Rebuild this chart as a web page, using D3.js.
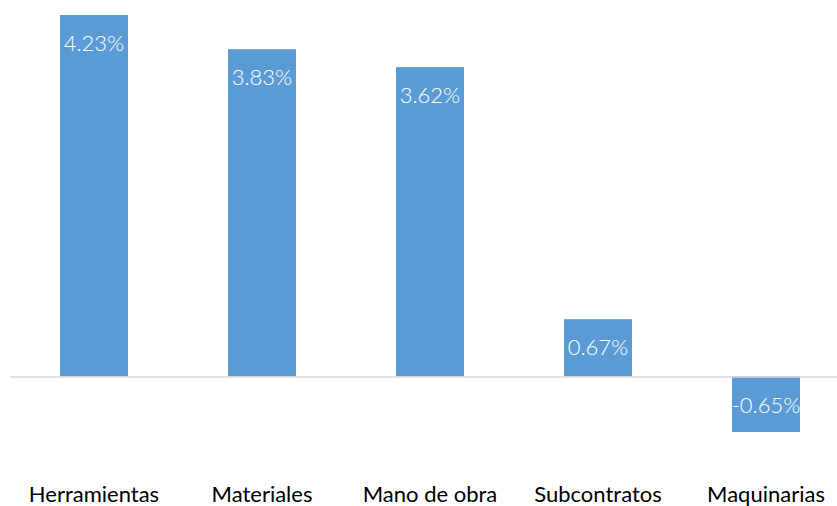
<!DOCTYPE html>
<html>
<head>
<meta charset="utf-8">
<script src="https://cdn.jsdelivr.net/npm/d3@7"></script>
<style>
  body { margin: 0; background: #fff; }
  svg { display: block; font-family: "Lato", "Open Sans", sans-serif; }
</style>
</head>
<body>
<script>
// chart data
var categories = ["Herramientas", "Materiales", "Mano de obra", "Subcontratos", "Maquinarias"];
var values = [4.23, 3.83, 3.62, 0.67, -0.65];

var width = 837,
    height = 506;

var svg = d3.select("body")
    .append("svg")
    .attr("width", width)
    .attr("height", height);

// bands 168px apart, bars 68px wide
var x = d3.scaleBand()
    .domain(categories)
    .range([10, 850])
    .paddingInner(100 / 168)
    .paddingOuter(50 / 168);

var y = d3.scaleLinear()
    .domain([-0.65, 4.23])
    .range([432, 15]);

var rows = categories.map(function(c, i) { return {cat: c, val: values[i]}; });

svg.append("g")
    .selectAll("rect")
    .data(rows)
    .enter().append("rect")
    .attr("x", function(d) { return x(d.cat); })
    .attr("width", x.bandwidth())
    .attr("y", function(d) { return y(Math.max(0, d.val)); })
    .attr("height", function(d) { return Math.abs(y(d.val) - y(0)); })
    .attr("fill", "#5B9BD5");

// zero line
svg.append("line")
    .attr("x1", 10)
    .attr("x2", width)
    .attr("y1", y(0) + 0.5)
    .attr("y2", y(0) + 0.5)
    .attr("stroke", "#D9D9D9")
    .attr("stroke-width", 1.5);

// value labels, inside end
svg.append("g")
    .selectAll("text")
    .data(rows)
    .enter().append("text")
    .attr("x", function(d) { return x(d.cat) + x.bandwidth() / 2; })
    .attr("y", function(d) { return d.val >= 0 ? y(d.val) + 28 : y(d.val) - 27; })
    .attr("dy", "0.35em")
    .attr("text-anchor", "middle")
    .attr("fill", "#fff")
    .style("font-size", "22px")
    .style("font-weight", 300)
    .text(function(d) { return d.val.toFixed(2) + "%"; });

// category labels
svg.append("g")
    .selectAll("text")
    .data(categories)
    .enter().append("text")
    .attr("x", function(d) { return x(d) + x.bandwidth() / 2; })
    .attr("y", 502)
    .attr("text-anchor", "middle")
    .attr("fill", "#000")
    .style("font-size", "22px")
    .text(function(d) { return d; });
</script>
</body>
</html>
